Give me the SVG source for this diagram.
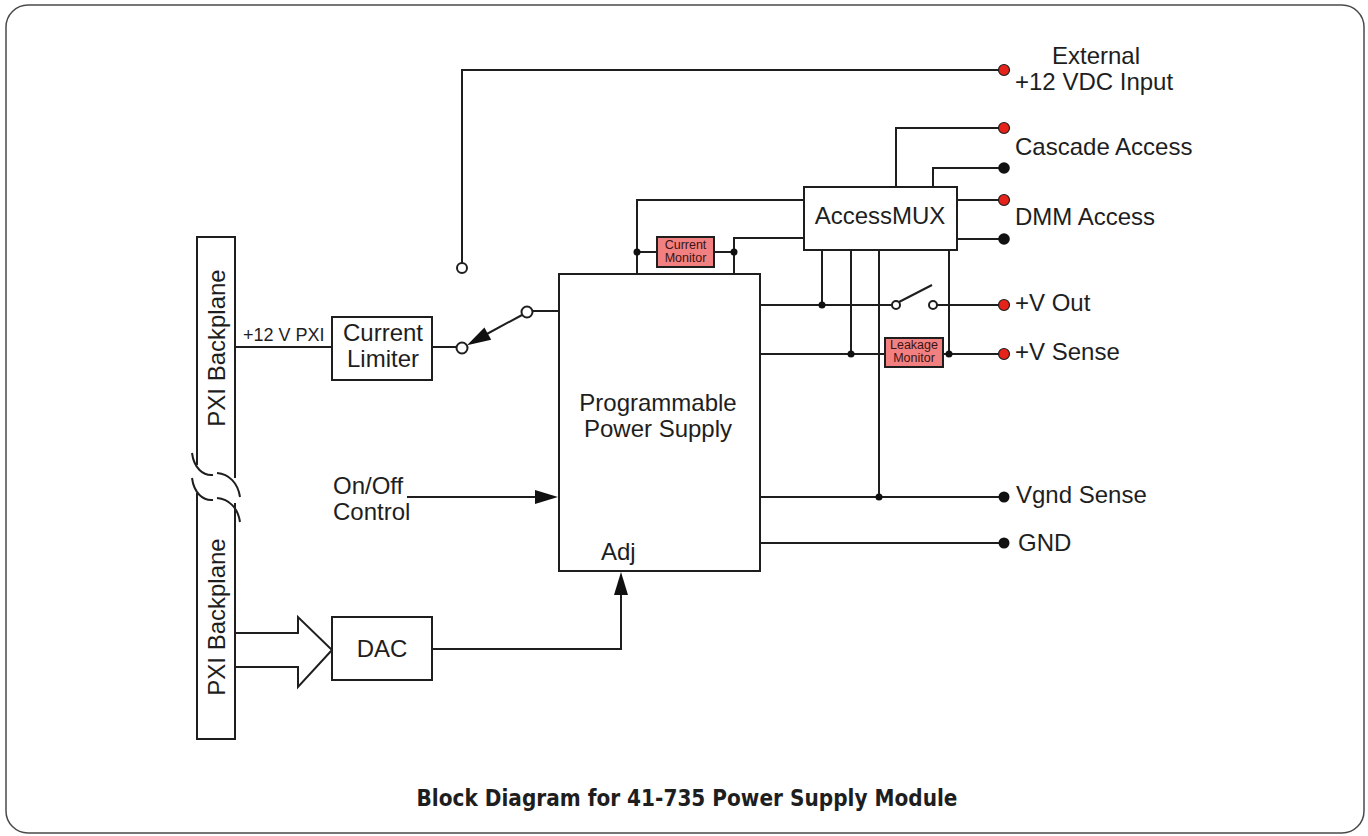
<svg xmlns="http://www.w3.org/2000/svg" width="1368" height="836" viewBox="0 0 1368 836">
<style>
.ln{fill:none;stroke:#1e1e1e;stroke-width:2}
.box{fill:#fff;stroke:#1e1e1e;stroke-width:2}
.mon{fill:#f28080;stroke:#1e1e1e;stroke-width:2}
.t{font-family:"Liberation Sans",Arial,sans-serif;font-size:24px;fill:#1e1e1e}
.ts{font-family:"Liberation Sans",Arial,sans-serif;font-size:12.5px;fill:#3a1414}
.tm{font-family:"Liberation Sans",Arial,sans-serif;font-size:18px;fill:#1e1e1e}
.red{fill:#e5231b;stroke:#1e1e1e;stroke-width:1.2}
.blk{fill:#111}
.open{fill:#fff;stroke:#1e1e1e;stroke-width:2}
.jn{fill:#111}
.arr{fill:#111}
</style>
<defs>
<clipPath id="clipR"><rect x="0" y="0" width="1194" height="836"/></clipPath>
</defs>
<rect x="6" y="5" width="1358" height="828" rx="22" fill="#fff" stroke="#4a4a4a" stroke-width="1.5"/>

<g id="connectors">
<line class="ln" x1="235" y1="347" x2="332" y2="347"/>
<line class="ln" x1="432" y1="347" x2="456" y2="347"/>
<line class="ln" x1="532" y1="311" x2="558" y2="311"/>
<line class="ln" x1="522" y1="315" x2="485" y2="335"/>
<polygon class="arr" points="467,345.3 491.2,339.8 484.4,327.6"/>
<polyline class="ln" points="462,263 462,70 999,70"/>
<line class="ln" x1="407" y1="497" x2="538" y2="497"/>
<polygon class="arr" points="558,497 535,490 535,504"/>
<polygon class="ln" points="235,633 298,633 298,617 332,650 298,687 298,667 235,667" style="fill:#fff"/>
<polyline class="ln" points="432,649 621,649 621,593"/>
<polygon class="arr" points="621,572 614,595 628,595"/>
<polyline class="ln" points="637,274 637,200 804,200"/>
<polyline class="ln" points="734,274 734,238 804,238"/>
<line class="ln" x1="637" y1="252" x2="657" y2="252"/>
<line class="ln" x1="714" y1="252" x2="734" y2="252"/>
<polyline class="ln" points="896,187 896,128 999,128"/>
<polyline class="ln" points="933,187 933,168 999,168"/>
<line class="ln" x1="957" y1="200" x2="999" y2="200"/>
<line class="ln" x1="957" y1="239" x2="999" y2="239"/>
<line class="ln" x1="822" y1="250" x2="822" y2="305"/>
<line class="ln" x1="851" y1="250" x2="851" y2="354"/>
<line class="ln" x1="879" y1="250" x2="879" y2="497"/>
<line class="ln" x1="949" y1="250" x2="949" y2="354"/>
<line class="ln" x1="760" y1="305" x2="892" y2="305"/>
<line class="ln" x1="899" y1="302" x2="932" y2="285"/>
<line class="ln" x1="937" y1="305" x2="999" y2="305"/>
<line class="ln" x1="760" y1="354" x2="885" y2="354"/>
<line class="ln" x1="943" y1="354" x2="999" y2="354"/>
<line class="ln" x1="760" y1="497" x2="1000" y2="497"/>
<line class="ln" x1="760" y1="543" x2="1000" y2="543"/>
<circle class="jn" cx="637" cy="252" r="3.5"/>
<circle class="jn" cx="734" cy="252" r="3.5"/>
<circle class="jn" cx="822" cy="305" r="3.5"/>
<circle class="jn" cx="851" cy="354" r="3.5"/>
<circle class="jn" cx="949" cy="354" r="3.5"/>
<circle class="jn" cx="879" cy="497" r="3.5"/>
<circle class="open" cx="462" cy="268" r="5"/>
<circle class="open" cx="462" cy="348" r="5.5"/>
<circle class="open" cx="527" cy="312" r="5.5"/>
<circle class="open" cx="896" cy="305" r="4"/>
<circle class="open" cx="933" cy="305" r="4"/>
<circle class="red" cx="1004" cy="70" r="5.5"/>
<circle class="red" cx="1004" cy="128" r="5.5"/>
<circle class="blk" cx="1004" cy="168" r="5.8"/>
<circle class="red" cx="1004" cy="200" r="5.5"/>
<circle class="blk" cx="1004" cy="239" r="5.8"/>
<circle class="red" cx="1004" cy="305" r="5.5"/>
<circle class="red" cx="1004" cy="354" r="5.5"/>
<circle class="blk" cx="1004" cy="497" r="5.5"/>
<circle class="blk" cx="1004" cy="543" r="5.5"/>
</g>

<g id="pxi-backplane">
<path class="ln" d="M197,465 L197,237 L235,237 L235,478"/>
<path class="ln" d="M197,493 L197,739 L235,739 L235,503"/>
<path class="ln" d="M192,453 C194,468 203,476 213,475 M217,473 C229,474 238,483 240,497"/>
<path class="ln" d="M192,478 C194,493 203,501 213,500 M217,498 C229,499 238,508 240,522"/>
<text class="t" x="225" y="348" text-anchor="middle" transform="rotate(-90 225 348)">PXI Backplane</text>
<text class="t" x="225" y="617" text-anchor="middle" transform="rotate(-90 225 617)">PXI Backplane</text>
</g>

<g id="label-12v-pxi"><text class="tm" x="243" y="341">+12 V PXI</text></g>

<g id="current-limiter">
<rect class="box" x="332" y="317" width="100" height="63"/>
<text class="t" x="383" y="341" text-anchor="middle">Current</text>
<text class="t" x="383" y="367" text-anchor="middle">Limiter</text>
</g>

<g id="dac">
<rect class="box" x="332" y="617" width="100" height="63"/>
<text class="t" x="382" y="657" text-anchor="middle">DAC</text>
</g>

<g id="onoff-label">
<text class="t" x="333" y="494">On/Off</text>
<text class="t" x="333" y="520">Control</text>
</g>

<g id="pps">
<rect class="box" x="559" y="274" width="201" height="297"/>
<text class="t" x="658" y="411" text-anchor="middle">Programmable</text>
<text class="t" x="658" y="437" text-anchor="middle">Power Supply</text>
<text class="t" x="601" y="560">Adj</text>
</g>

<g id="current-monitor">
<rect class="mon" x="657" y="237" width="57" height="30"/>
<text class="ts" x="685.5" y="249" text-anchor="middle">Current</text>
<text class="ts" x="685.5" y="262" text-anchor="middle">Monitor</text>
</g>

<g id="accessmux">
<rect class="box" x="804" y="187" width="153" height="63"/>
<text class="t" x="880" y="224" text-anchor="middle">AccessMUX</text>
</g>

<g id="leakage-monitor">
<rect class="mon" x="885" y="338" width="58" height="29"/>
<text class="ts" x="914" y="349" text-anchor="middle">Leakage</text>
<text class="ts" x="914" y="362" text-anchor="middle">Monitor</text>
</g>

<g id="terminal-labels">
<text class="t" x="1096" y="64" text-anchor="middle">External</text>
<text class="t" x="1015" y="90">+12 VDC Input</text>
<text class="t" x="1015" y="155" clip-path="url(#clipR)">Cascade Access</text>
<text class="t" x="1015" y="225">DMM Access</text>
<text class="t" x="1015" y="311">+V Out</text>
<text class="t" x="1015" y="360">+V Sense</text>
<text class="t" x="1016" y="503">Vgnd Sense</text>
<text class="t" x="1018" y="551">GND</text>
</g>

<g id="caption">
<text x="687" y="806" text-anchor="middle" textLength="541" lengthAdjust="spacingAndGlyphs" style="font-family:'DejaVu Sans Condensed','DejaVu Sans',sans-serif;font-weight:bold;font-size:23px;fill:#1e1e1e">Block Diagram for 41-735 Power Supply Module</text>
</g>
</svg>
